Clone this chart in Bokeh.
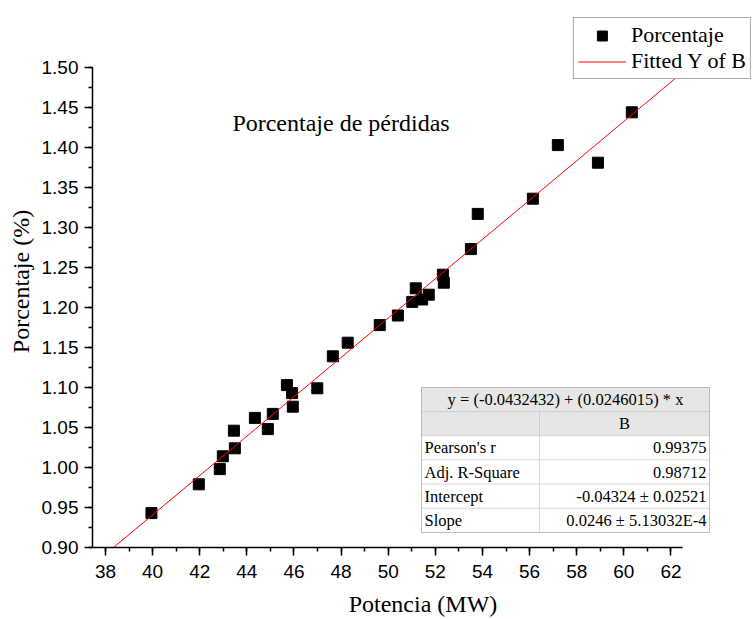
from math import pi
from bokeh.plotting import figure
from bokeh.models import (FixedTicker, NumeralTickFormatter, Label, BoxAnnotation,
                          Legend, LegendItem, Range1d, Title)
from bokeh.embed import file_html
from bokeh.resources import INLINE

# ---- data ----
potencia = [39.95, 41.96, 42.85, 42.98, 43.49, 43.45, 44.34, 44.89, 45.10, 45.70,
            45.92, 45.95, 46.99, 47.65, 48.28, 49.64, 50.41, 51.02, 51.17, 51.44,
            51.72, 52.32, 52.36, 53.51, 53.80, 56.14, 57.20, 58.90, 60.34]
porcentaje = [0.943, 0.979, 0.998, 1.014, 1.024, 1.046, 1.062, 1.048, 1.067, 1.103,
              1.093, 1.076, 1.099, 1.139, 1.156, 1.178, 1.190, 1.207, 1.224, 1.210,
              1.216, 1.241, 1.231, 1.273, 1.317, 1.336, 1.403, 1.381, 1.444]

# fitted line endpoints (y = -0.0432432 + 0.0246015 x)
fit_x = [38.34, 64.0]
fit_y = [0.900, 1.531]

x_major = [38, 40, 42, 44, 46, 48, 50, 52, 54, 56, 58, 60, 62]
x_minor = [38, 39, 40, 41, 42, 43, 44, 45, 46, 47, 48, 49, 50, 51, 52, 53, 54, 55,
           56, 57, 58, 59, 60, 61, 62]
y_major = [0.90, 0.95, 1.00, 1.05, 1.10, 1.15, 1.20, 1.25, 1.30, 1.35, 1.40, 1.45, 1.50]
y_minor = [0.900, 0.925, 0.950, 0.975, 1.000, 1.025, 1.050, 1.075, 1.100, 1.125,
           1.150, 1.175, 1.200, 1.225, 1.250, 1.275, 1.300, 1.325, 1.350, 1.375,
           1.400, 1.425, 1.450, 1.475, 1.500]

title_text = "Porcentaje de pérdidas"
x_label = "Potencia (MW)"
y_label = "Porcentaje (%)"
legend_labels = ["Porcentaje", "Fitted Y of B"]

table_equation = "y = (-0.0432432) + (0.0246015) * x"
table_column = "B"
table_rows = ["Pearson's r", "Adj. R-Square", "Intercept", "Slope"]
table_values = ["0.99375", "0.98712", "-0.04324 \u00b1 0.02521", "0.0246 \u00b1 5.13032E-4"]

# ---- figure ----
W, H = 753, 619
p = figure(width=W, height=H, output_backend="svg", toolbar_location=None,
           title=None,
           x_range=Range1d(37.448, 65.504), y_range=Range1d(0.9, 1.565),
           min_border_left=92, min_border_right=0, min_border_top=15,
           min_border_bottom=72)
p.background_fill_color = "white"
p.border_fill_color = "white"
p.outline_line_color = None
p.xgrid.visible = False
p.ygrid.visible = False

sq = p.scatter(potencia, porcentaje, marker="square", size=11,
               fill_color="black", line_color="black")
ln = p.line(fit_x, fit_y, line_color="red", line_width=1)

# axes
p.xaxis.ticker = FixedTicker(ticks=x_major, minor_ticks=x_minor)
p.yaxis.ticker = FixedTicker(ticks=y_major, minor_ticks=y_minor)
p.yaxis.formatter = NumeralTickFormatter(format="0.00")
p.xaxis.bounds = (37.448, 62.47)
p.yaxis.bounds = (0.9, 1.5)
for ax in (p.xaxis[0], p.yaxis[0]):
    ax.axis_line_color = "black"
    ax.axis_line_width = 1.5
    ax.major_tick_line_color = "black"
    ax.minor_tick_line_color = "black"
    ax.major_tick_line_width = 1.5
    ax.minor_tick_line_width = 1.5
    ax.major_tick_out = 8
    ax.major_tick_in = 0
    ax.minor_tick_out = 4
    ax.minor_tick_in = 0
    ax.major_label_text_font = "Liberation Sans"
    ax.major_label_text_font_size = "19px"
    ax.major_label_text_color = "black"
p.xaxis.major_label_standoff = 9
p.yaxis.major_label_standoff = 6

# x axis title (centred on the axis bounds)
p.xaxis.axis_label = x_label
p.xaxis.axis_label_standoff = 10
p.xaxis.axis_label_text_font = "Liberation Serif"
p.xaxis.axis_label_text_font_size = "24px"
p.xaxis.axis_label_text_font_style = "normal"
p.xaxis.axis_label_text_color = "black"

# y axis title as a side-panel title (it sits below the axis centre)
p.add_layout(Title(text=y_label, align="center", offset=-72, standoff=10,
                   text_font="Liberation Serif", text_font_size="24px",
                   text_font_style="normal", text_color="black"), "left")

# inner title (screen units relative to the frame)
p.add_layout(Label(x=248.5, y=425, x_units="screen", y_units="screen", text=title_text,
                   text_align="center", text_baseline="alphabetic",
                   text_font="Liberation Serif", text_font_size="24px",
                   text_color="black"))

# ---- statistics table ----
t_left, t_mid, t_right = 329, 447, 617
t_top = 160
row_h = 145 / 6.0
head_fill = "#e6e6e6"
cell_line = "#a6a6a6"
font_tbl = "16.5px"


def box(l, r, t, b, fill, line=cell_line, alpha=1.0):
    p.add_layout(BoxAnnotation(left=l, right=r, top=t, bottom=b,
                               left_units="screen", right_units="screen",
                               top_units="screen", bottom_units="screen",
                               fill_color=fill, fill_alpha=alpha,
                               line_color=line, line_width=1))


def txt(x, y, s, align):
    p.add_layout(Label(x=x, y=y, x_units="screen", y_units="screen", text=s,
                       text_align=align, text_baseline="middle",
                       text_font="Liberation Serif", text_font_size=font_tbl,
                       text_color="black"))


# header row (merged)
box(t_left, t_right, t_top, t_top - row_h, head_fill)
txt((t_left + t_right) / 2, t_top - 0.5 * row_h, table_equation, "center")
# second header row
box(t_left, t_mid, t_top - row_h, t_top - 2 * row_h, head_fill)
box(t_mid, t_right, t_top - row_h, t_top - 2 * row_h, head_fill)
txt((t_mid + t_right) / 2, t_top - 1.5 * row_h, table_column, "center")
for i, (name, val) in enumerate(zip(table_rows, table_values)):
    top = t_top - (i + 2) * row_h
    bot = top - row_h
    box(t_left, t_mid, top, bot, "white")
    box(t_mid, t_right, top, bot, "white")
    txt(t_left + 3, top - 0.5 * row_h, name, "left")
    txt(t_right - 3, top - 0.5 * row_h, val, "right")
# outer border
box(t_left, t_right, t_top, t_top - 6 * row_h, None, line="#6e6e6e", alpha=0.0)

# ---- legend ----
legend = Legend(items=[LegendItem(label=legend_labels[0], renderers=[sq]),
                       LegendItem(label=legend_labels[1], renderers=[ln])],
                location="top_right", margin=2, padding=4, spacing=0,
                glyph_width=48, glyph_height=25, label_height=25, label_standoff=5,
                label_text_font="Liberation Serif", label_text_font_size="22px",
                label_text_color="black",
                border_line_color="#555555", border_line_width=1,
                background_fill_color="white", background_fill_alpha=1.0)
p.add_layout(legend)

open("out.html", "w").write(file_html(p, INLINE))
